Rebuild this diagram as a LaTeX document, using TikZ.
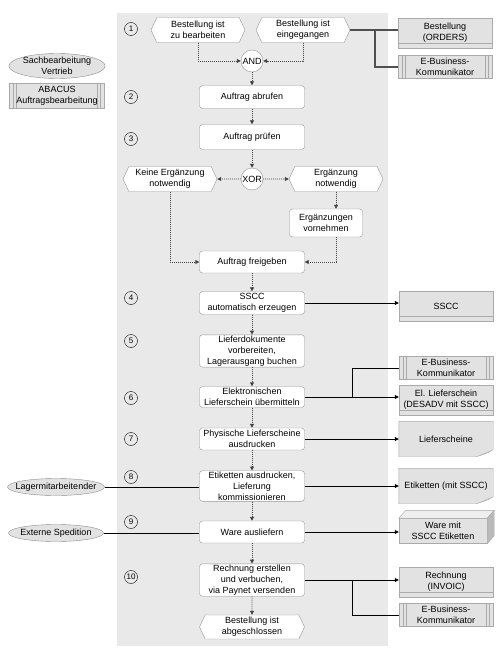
\documentclass[tikz,border=0pt]{standalone}
\usepackage{fontspec}
\setmainfont{Liberation Sans}
\usetikzlibrary{shapes.geometric,shapes.symbols,arrows.meta,positioning,calc}
\pgfdeclarelayer{background}
\pgfsetlayers{background,main}
\definecolor{lanegray}{RGB}{233,233,233}
\definecolor{datagray}{RGB}{226,226,226}
\definecolor{datalight}{RGB}{238,238,238}
\definecolor{sidegray}{RGB}{185,185,185}
\definecolor{curlgray}{RGB}{180,180,180}
\definecolor{dataline}{RGB}{170,170,170}
\definecolor{funcline}{RGB}{150,150,150}
\definecolor{orgline}{RGB}{140,140,140}
\definecolor{flowgray}{RGB}{70,70,70}
\definecolor{infogray}{RGB}{80,80,80}
\tikzset{
  stepnr/.style={circle,draw,inner sep=0pt,minimum size=13pt,font=\fontsize{8}{8}\selectfont},
  func/.style={draw=funcline,fill=white,rounded corners=3pt,minimum width=105pt,minimum height=23pt,align=center,inner sep=1pt},
  event/.style={signal,signal to=west and east,signal pointer angle=130,draw=funcline,fill=white,minimum width=94pt,minimum height=25pt,align=center,inner sep=1pt},
  gate/.style={circle,draw=funcline,fill=white,minimum size=22pt,inner sep=0pt},
  orgunit/.style={ellipse,draw=orgline,fill=datagray,minimum width=95pt,minimum height=25pt,align=center,inner xsep=0pt,inner ysep=-1.5pt},
  datanode/.style={draw=dataline,fill=datagray,minimum width=94pt,minimum height=30pt,align=center,inner sep=1pt,
    path picture={\draw[dataline] ([yshift=5pt]path picture bounding box.south west) -- ([yshift=5pt]path picture bounding box.south east);}},
  sysnode/.style={draw=dataline,fill=datagray,minimum width=94pt,minimum height=23pt,align=center,inner sep=1pt,
    path picture={\foreach \dd in {4pt,7pt}{
      \draw[dataline] ([xshift=\dd]path picture bounding box.south west) -- ([xshift=\dd]path picture bounding box.north west);
      \draw[dataline] ([xshift=-\dd]path picture bounding box.south east) -- ([xshift=-\dd]path picture bounding box.north east);}}},
  docnode/.style={minimum width=94pt,minimum height=35pt,align=center,inner sep=1pt},
  flow/.style={draw=flowgray,line width=0.9pt,dash pattern=on 1pt off 1pt,-{Triangle[length=4pt,width=4pt]}},
  info/.style={draw=black,line width=0.8pt},
  infoarrow/.style={info,-{Triangle[length=4pt,width=4pt]}},
}
\begin{document}
\begin{tikzpicture}[x=1pt,y=-1pt,node distance=40pt,on grid,auto,font=\fontsize{9}{11}\selectfont]
\useasboundingbox (0,0) rectangle (498,650);
\begin{pgfonlayer}{background}
  \fill[lanegray] (117,13) rectangle (388,646);
\end{pgfonlayer}

% Schritte
\foreach \nr/\y in {1/29,2/97,3/139,4/298,5/341,6/398,7/439,8/477,9/522,10/577}
  \node[stepnr] (s\nr) at (131,\y) {\nr};

% Prozesskette
\node[event] (ev1) at (198,30) {Bestellung ist\\zu bearbeiten};
\node[event] (ev2) at (303,30) {Bestellung ist\\eingegangen};
\node[gate] (and) at (252,61) {AND};
\node[func] (abrufen) [below=36pt of and] {Auftrag abrufen};
\node[func,minimum height=25pt] (pruefen) [below=40pt of abrufen] {Auftrag prüfen};
\node[gate] (xor) [below=42pt of pruefen] {XOR};
\node[event] (keine) [left=82pt of xor] {Keine Ergänzung\\notwendig};
\node[event] (ergnot) [right=84pt of xor] {Ergänzung\\notwendig};
\node[func,minimum width=73pt,minimum height=28pt] (ergvor) [below=44pt of ergnot,xshift=-10pt] {Ergänzungen\\vornehmen};
\node[func,minimum height=22pt] (freigeben) [below=83pt of xor] {Auftrag freigeben};
\node[func] (sscc) [below=41pt of freigeben] {SSCC\\automatisch erzeugen};
\node[func] (liefdok) [below=48pt of sscc] {Lieferdokumente\\vorbereiten,\\Lagerausgang buchen};
\node[func,minimum height=21pt] (elief) [below=46pt of liefdok] {Elektronischen\\Lieferschein übermitteln};
\node[func,minimum height=22pt] (druck) [below=42pt of elief] {Physische Lieferscheine\\ausdrucken};
\node[func] (etik) [below=47pt of druck] {Etiketten ausdrucken,\\Lieferung\\kommissionieren};
\node[func,minimum height=22pt] (ausl) [below=46pt of etik] {Ware ausliefern};
\node[func] (rechn) [below=48pt of ausl] {Rechnung erstellen\\und verbuchen,\\via Paynet versenden};
\node[event,minimum width=105pt,minimum height=24pt] (ende) [below=47pt of rechn] {Bestellung ist\\abgeschlossen};

% Organisation und Systeme links
\node[orgunit] (vertrieb) at (57,66) {Sachbearbeitung\\Vertrieb};
\node[sysnode,minimum width=95pt,minimum height=25pt] (abacus) at (57,96) {ABACUS\\Auftragsbearbeitung};
\node[orgunit,minimum height=17pt,inner xsep=-6pt] (lager) at (56,487) {Lagermitarbeitender};
\node[orgunit,minimum height=17pt,inner xsep=-6pt] (sped) at (56,533) {Externe Spedition};

% Daten und Systeme rechts
\node[datanode] (orders) at (445,33) {Bestellung\\(ORDERS)};
\node[sysnode] (ebk1) at (445,67) {E-Business-\\Kommunikator};
\node[datanode] (ssccd) at (446,306) {SSCC};
\node[sysnode] (ebk2) at (446,368) {E-Business-\\Kommunikator};
\node[datanode] (desadv) at (446,400) {El. Lieferschein\\(DESADV mit SSCC)};
\node[docnode] (liefsch) at (446,439) {Lieferscheine};
\node[docnode] (etikd) at (446,486) {Etiketten (mit SSCC)};
\node[draw=dataline,fill=datagray,minimum width=88pt,minimum height=25pt,align=center,inner sep=1pt] (ware) at (443,531) {Ware mit\\SSCC Etiketten};
\node[datanode] (invoic) at (446,582) {Rechnung\\(INVOIC)};
\node[sysnode] (ebk3) at (446,615) {E-Business-\\Kommunikator};

% Dokumente und Palette
\begin{pgfonlayer}{background}
\foreach \doc in {liefsch,etikd}{
  \filldraw[draw=dataline,fill=datagray] (\doc.north west) -- (\doc.north east) -- ([yshift=7pt]\doc.south east)
    .. controls ([shift={(-7pt,3pt)}]\doc.south east) .. ([xshift=-17pt]\doc.south east) -- (\doc.south west) -- cycle;
  \fill[curlgray] ([xshift=-17pt]\doc.south east) .. controls ([shift={(-7pt,3pt)}]\doc.south east) .. ([yshift=7pt]\doc.south east)
    -- ([shift={(-5pt,5pt)}]\doc.south east) -- cycle;
}
\end{pgfonlayer}
\filldraw[draw=dataline,fill=datalight] (ware.north west) -- ([shift={(7pt,8pt)}]ware.north west) -- ([shift={(7pt,8pt)}]ware.north east) -- (ware.north east) -- cycle;
\filldraw[draw=dataline,fill=sidegray] (ware.north east) -- ([shift={(7pt,8pt)}]ware.north east) -- ([shift={(7pt,8pt)}]ware.south east) -- (ware.south east) -- cycle;

% Kontrollfluss
\draw[flow] (ev1.south) |- (and.west);
\draw[flow] (ev2.south) |- (and.east);
\path[flow]
  (and) edge (abrufen)
  (abrufen) edge (pruefen)
  (pruefen) edge (xor)
  (xor) edge (keine)
  (xor) edge (ergnot)
  (freigeben) edge (sscc)
  (sscc) edge (liefdok)
  (liefdok) edge (elief)
  (elief) edge (druck)
  (druck) edge (etik)
  (etik) edge (ausl)
  (ausl) edge (rechn)
  (rechn) edge (ende);
\draw[flow] (ergnot.south) -- (ergnot.south |- ergvor.north);
\draw[flow] (keine.south) |- (freigeben.west);
\draw[flow] (ergnot.south |- ergvor.south) |- (freigeben.east);

% Informationsfluss
\coordinate (knick1) at (375,0);
\coordinate (knick2) at (352,0);
\draw[info,draw=infogray,line width=1.2pt] (ev2.east) -- (ev2.east -| orders.west);
\draw[info,draw=infogray,line width=1.2pt] (ev2.east -| knick1) |- (ebk1.west);
\draw[infoarrow] (sscc.east) -- (sscc.east -| ssccd.west);
\draw[infoarrow] (elief.east) -- (elief.east -| desadv.west);
\draw[info] (elief.east -| knick2) |- (ebk2.west);
\draw[infoarrow] (druck.east) -- (druck.east -| liefsch.west);
\draw[infoarrow] (etik.east) -- (etik.east -| etikd.west);
\draw[infoarrow] (ausl.east) -- (ausl.east -| ware.west);
\draw[infoarrow] (rechn.east) -- (rechn.east -| invoic.west);
\draw[info] (rechn.east -| knick2) |- (ebk3.west);
\draw[info] (lager.east) -- (lager.east -| etik.west);
\draw[info] (sped.east) -- (sped.east -| ausl.west);
\end{tikzpicture}
\end{document}
